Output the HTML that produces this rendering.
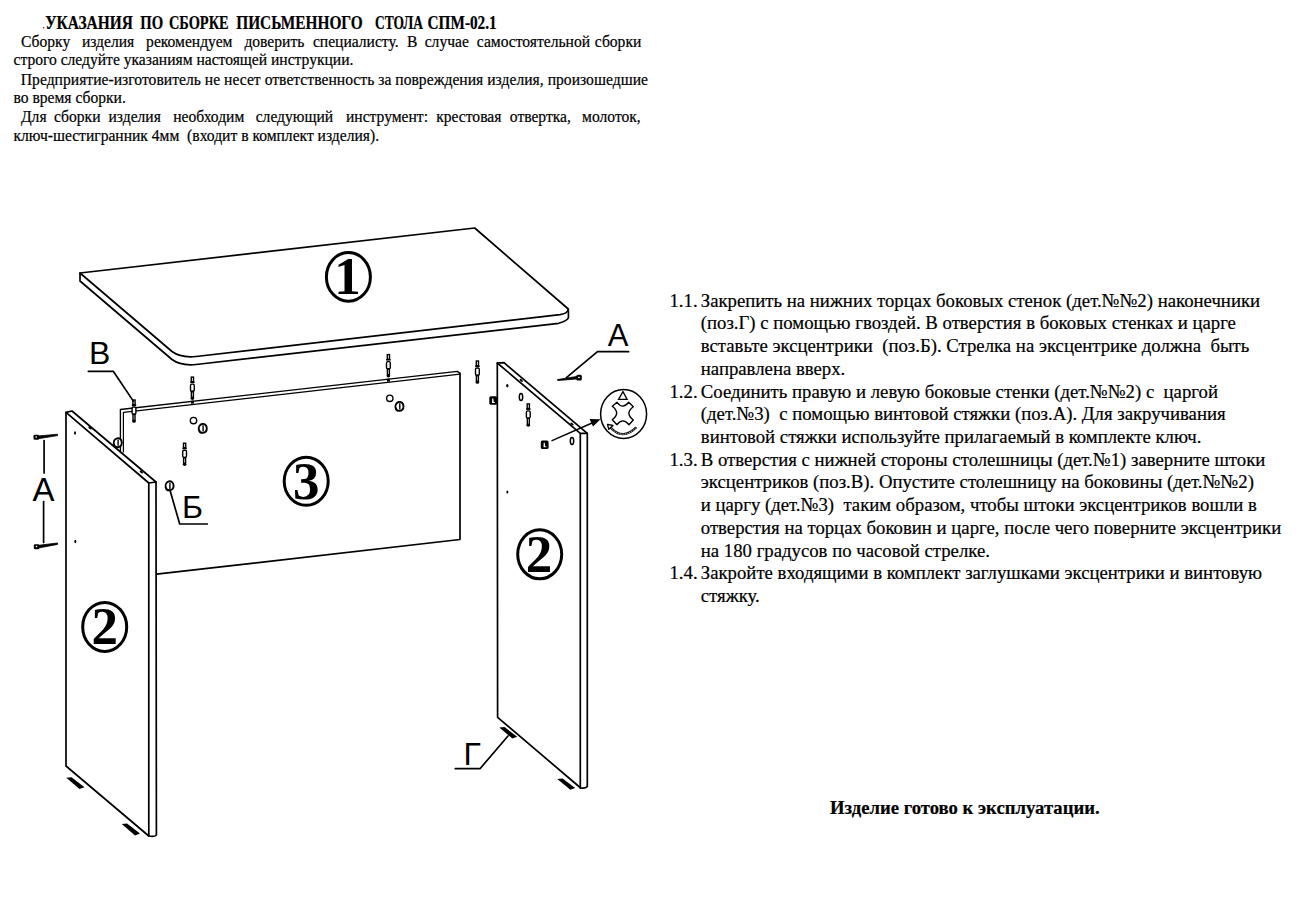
<!DOCTYPE html>
<html><head><meta charset="utf-8">
<style>
html,body{margin:0;padding:0;background:#fff;width:1300px;height:900px;overflow:hidden}
svg{display:block}
.t{font-family:"Liberation Serif",serif;fill:#000;stroke:#000;stroke-width:0.2px}
.h{font-size:15.6px}
.r{font-size:18.75px}
.lbl{font-family:"Liberation Sans",sans-serif;font-size:32px;fill:#000}
.num{font-family:"Liberation Serif",serif;font-weight:bold;font-size:53px;fill:#000}
.ln{fill:none;stroke:#000;stroke-width:1.7;stroke-linejoin:round;stroke-linecap:round}
.th{fill:none;stroke:#000;stroke-width:1.3}
</style></head>
<body>
<svg width="1300" height="900" viewBox="0 0 1300 900" xml:space="preserve">
<!-- HEADER TEXT -->
<g class="t h" transform="scale(1 1.1)">
<text x="45.2" y="26.18" font-weight="bold" font-size="16.2px" textLength="87.6" lengthAdjust="spacingAndGlyphs">УКАЗАНИЯ</text><text x="140.3" y="26.18" font-weight="bold" font-size="16.2px" textLength="22.9" lengthAdjust="spacingAndGlyphs">ПО</text><text x="168.9" y="26.18" font-weight="bold" font-size="16.2px" textLength="59.8" lengthAdjust="spacingAndGlyphs">СБОРКЕ</text><text x="236.2" y="26.18" font-weight="bold" font-size="16.2px" textLength="126.5" lengthAdjust="spacingAndGlyphs">ПИСЬМЕННОГО</text><text x="375.0" y="26.18" font-weight="bold" font-size="16.2px" textLength="47.9" lengthAdjust="spacingAndGlyphs">СТОЛА</text><text x="427.6" y="26.18" font-weight="bold" font-size="16.2px" textLength="69.1" lengthAdjust="spacingAndGlyphs">СПМ-02.1</text>
<text y="42.55"><tspan x="21.0">Сборку</tspan><tspan x="81.9">изделия</tspan><tspan x="146.1">рекомендуем</tspan><tspan x="244.4">доверить</tspan><tspan x="312.9">специалисту.</tspan><tspan x="407.0">В</tspan><tspan x="424.7">случае</tspan><tspan x="476.8">самостоятельной</tspan><tspan x="594.8">сборки</tspan></text>
<text x="13.5" y="59.27">строго следуйте указаниям настоящей инструкции.</text>
<text x="20.8" y="77.36" textLength="627.2" lengthAdjust="spacing">Предприятие-изготовитель не несет ответственность за повреждения изделия, произошедшие</text>
<text x="13.5" y="94.00">во время сборки.</text>
<text y="111.18"><tspan x="21.0">Для</tspan><tspan x="54.0">сборки</tspan><tspan x="108.5">изделия</tspan><tspan x="173.3">необходим</tspan><tspan x="255.7">следующий</tspan><tspan x="346.0">инструмент:</tspan><tspan x="436.2">крестовая</tspan><tspan x="509.8">отвертка,</tspan><tspan x="582.1">молоток,</tspan></text>
<text x="13.5" y="128.36" style="white-space:pre">ключ-шестигранник 4мм &#160;(входит в комплект изделия).</text>
</g>
<circle cx="43.6" cy="27.8" r="0.7" fill="#333"/>

<!-- RIGHT COLUMN TEXT -->
<g class="t r" style="white-space:pre" transform="translate(0 0.5) scale(1 1.05)">
<text x="669.5" y="291.71">1.1.</text>
<text x="700.8" y="291.71">Закрепить на нижних торцах боковых стенок (дет.№№2) наконечники</text>
<text x="700.8" y="313.33">(поз.Г) с помощью гвоздей. В отверстия в боковых стенках и царге</text>
<text x="700.8" y="334.95">вставьте эксцентрики &#160;(поз.Б). Стрелка на эксцентрике должна &#160;быть</text>
<text x="700.8" y="356.67">направлена вверх.</text>
<text x="669.5" y="378.29">1.2.</text>
<text x="700.8" y="378.29">Соединить правую и левую боковые стенки (дет.№№2) с &#160;царгой</text>
<text x="700.8" y="399.90">(дет.№3) &#160;с помощью винтовой стяжки (поз.А). Для закручивания</text>
<text x="700.8" y="421.52">винтовой стяжки используйте прилагаемый в комплекте ключ.</text>
<text x="669.5" y="443.14">1.3.</text>
<text x="700.8" y="443.14">В отверстия с нижней стороны столешницы (дет.№1) заверните штоки</text>
<text x="700.8" y="464.76">эксцентриков (поз.В). Опустите столешницу на боковины (дет.№№2)</text>
<text x="700.8" y="486.48">и царгу (дет.№3) &#160;таким образом, чтобы штоки эксцентриков вошли в</text>
<text x="700.8" y="508.10">отверстия на торцах боковин и царге, после чего поверните эксцентрики</text>
<text x="700.8" y="529.71">на 180 градусов по часовой стрелке.</text>
<text x="669.5" y="551.33">1.4.</text>
<text x="700.8" y="551.33">Закройте входящими в комплект заглушками эксцентрики и винтовую</text>
<text x="700.8" y="573.05">стяжку.</text>
</g>
<text class="t" x="830" y="814" font-weight="bold" font-size="18.7px">Изделие готово к эксплуатации.</text>

<!-- DIAGRAM -->
<g id="diagram">
<defs>
<g id="dw">
<rect x="-1.1" y="0.6" width="2.2" height="4.6" fill="#fff" stroke="#000" stroke-width="1.4"/>
<line x1="-2.2" y1="5.8" x2="2.2" y2="5.8" stroke="#000" stroke-width="1.6"/>
<rect x="-1.9" y="7.6" width="3.8" height="7.2" rx="1.3" fill="#fff" stroke="#000" stroke-width="1.4"/>
<rect x="-1" y="15" width="2" height="6" fill="#fff" stroke="#000" stroke-width="1.4"/>
<ellipse cx="0" cy="22" rx="1.8" ry="1.4" fill="#000"/>
</g>
<g id="ecc">
<path d="M-3.6,1.5 C-4.2,-1 -2.8,-3.6 -0.5,-4.3 C2,-5 4.2,-3 4.3,0 C4.4,3 2.5,4.6 0,4.6 C-2,4.6 -3.2,3.6 -3.6,1.5 Z" fill="#fff" stroke="#000" stroke-width="1.9"/>
<line x1="0.6" y1="-3" x2="0.6" y2="3.2" stroke="#000" stroke-width="1.4"/>
</g>
<g id="hole">
<circle cx="0" cy="0" r="3.2" fill="#fff" stroke="#000" stroke-width="1.4"/>
</g>
</defs>

<!-- Tabletop -->
<path class="ln" fill="#fff" d="M80,273 L474.7,228 L568.3,309 C568,312 565,314 560,314.7 L196,356.5 C186,357.5 178,356 172,351.5 Z"/>
<path class="ln" d="M80,273 L80,281 L172,359.5 C178,364 186,365.5 196,364.5 L558.7,323.3 C565,321.5 568.5,320 568.5,317 L568.3,309"/>
<g class="num"><text x="347.6" y="294" text-anchor="middle">1</text></g>
<ellipse cx="348.4" cy="276.9" rx="22" ry="24.3" fill="none" stroke="#000" stroke-width="3"/>

<!-- Rear panel (3) -->
<path class="ln" d="M460,373.4 L460,539.5 L156.6,574.2"/>
<path class="ln" style="stroke-width:1.35" d="M120.4,452 L120.4,409.5 L457.3,371.4 L460,373.4"/>
<path class="ln" style="stroke-width:1.2" d="M123.4,452 L123.4,412.4 L460,374.2"/>
<g class="num"><text x="306.2" y="498.5" text-anchor="middle">3</text></g>
<ellipse cx="306.2" cy="481.3" rx="22" ry="24" fill="none" stroke="#000" stroke-width="3"/>
<rect x="190.9" y="400.6" width="3" height="3" fill="#000" transform="rotate(-6.5 192.4 402)"/>
<use href="#dw" x="192.4" y="376.5"/>
<rect x="386.9" y="378.6" width="3" height="3" fill="#000" transform="rotate(-6.5 388.4 380)"/>
<use href="#dw" x="388.4" y="354"/>
<use href="#dw" x="184.6" y="442.6"/>
<use href="#dw" x="134" y="399.4"/>
<use href="#hole" x="193.5" y="420.6"/>
<use href="#ecc" x="202.5" y="428.3"/>
<use href="#hole" x="389.8" y="398.3"/>
<use href="#ecc" x="399.2" y="406.3"/>
<use href="#ecc" x="117.5" y="442.6"/>
<use href="#ecc" x="169.3" y="485.7"/>

<!-- Left side panel (2) -->
<path class="ln" fill="#fff" d="M66,412.3 L72,411 L156,482 L156.4,835 C155,836.5 151,836.5 148.8,836 L66,766 Z"/>
<path class="ln" d="M66,412.3 L148.8,483 L148.8,836 M148.8,483 L156,482"/>
<g class="num"><text x="104.7" y="644.3" text-anchor="middle">2</text></g>
<ellipse cx="104.7" cy="626.9" rx="22" ry="24.5" fill="none" stroke="#000" stroke-width="3"/>
<polygon points="66.3,777.8 71.5,777.3 84.5,787.3 79.5,789" fill="#000"/>
<polygon points="121.8,824 127,823.5 140,833.5 135,835.5" fill="#000"/>
<ellipse cx="90" cy="428" rx="2" ry="1" fill="#000" transform="rotate(40 90 428)"/>
<ellipse cx="141.3" cy="472" rx="2" ry="1" fill="#000" transform="rotate(40 141.3 472)"/>
<ellipse cx="75" cy="433" rx="1" ry="1.8" fill="#000"/>
<ellipse cx="75.3" cy="541.5" rx="1" ry="1.8" fill="#000"/>

<!-- Right side panel (2) -->
<path class="ln" fill="#fff" d="M497.3,363 L504,362.7 L587.3,433.3 L587.3,786.5 C586,788 583,788.3 580.7,788 L497.6,717.3 Z"/>
<path class="ln" d="M497.3,363 L580.3,433.3 L580.3,788 M580.3,433.3 L587.3,433.3"/>
<g class="num"><text x="539" y="571.5" text-anchor="middle">2</text></g>
<ellipse cx="539.7" cy="554.3" rx="22" ry="24.5" fill="none" stroke="#000" stroke-width="3"/>
<polygon points="499.3,727.5 504.5,727 517.2,736.8 512.3,738.5" fill="#000"/>
<polygon points="557.3,779 562.5,778.5 575.2,788 570.3,789.7" fill="#000"/>
<ellipse cx="521.3" cy="380.4" rx="2" ry="1" fill="#000" transform="rotate(40 521.3 380.4)"/>
<ellipse cx="572" cy="424" rx="2" ry="1" fill="#000" transform="rotate(40 572 424)"/>
<ellipse cx="507.3" cy="385.7" rx="1.2" ry="1.6" fill="#000"/>
<ellipse cx="507.3" cy="492" rx="1" ry="1.6" fill="#000"/>
<ellipse cx="521" cy="396.9" rx="1.7" ry="3.5" fill="none" stroke="#000" stroke-width="1.5"/>
<ellipse cx="572" cy="440.9" rx="1.7" ry="3.5" fill="none" stroke="#000" stroke-width="1.5"/>
<use href="#dw" x="528.3" y="403.3"/>
<use href="#dw" x="477.4" y="360.4"/>
<rect x="489.3" y="396.2" width="7.8" height="8.6" rx="1.6" fill="#000"/><path d="M492.2,398.5 L493.3,398.5 L493.8,402.3 L495,402.3 L495,403 L492,403 Z" fill="#fff"/>
<rect x="540.8" y="440.5" width="7.8" height="8.6" rx="1.6" fill="#000"/><path d="M543.7,442.8 L544.8,442.8 L545.3,446.6 L546.5,446.6 L546.5,447.3 L543.5,447.3 Z" fill="#fff"/>

<!-- Arrow to eccentric icon -->
<line class="ln" style="stroke-width:1.4" x1="552" y1="440.7" x2="592" y2="423"/>
<polygon points="600.5,419.3 589.5,419 593,426.5" fill="#000"/>
<!-- Eccentric icon -->
<ellipse cx="623.6" cy="414" rx="23" ry="24.5" fill="#fff" stroke="#000" stroke-width="1.5"/>
<polygon points="618.5,399.4 627.1,399.4 623,391.6" fill="none" stroke="#000" stroke-width="1.3"/>
<path fill="none" stroke="#000" stroke-width="1.4" stroke-linejoin="round" d="M617,402.3 Q622.7,410 628.7,402.3 L633.3,406.7 Q624.5,413.2 633.3,420 L629,424.7 Q622.7,417 617,424.7 L612.3,419.7 Q621,413.2 612.3,406.3 Z"/>
<path d="M610.5,427.5 Q623,441 636.3,427.3" fill="none" stroke="#000" stroke-width="2.3"/>
<path d="M610.5,427.5 Q623,441 636.3,427.3" fill="none" stroke="#fff" stroke-width="0.8" stroke-dasharray="1.5 0.8"/>
<polygon points="607.5,424.3 613,425.5 608.8,429.3" fill="#fff" stroke="#000" stroke-width="1.3" stroke-linejoin="round"/>

<!-- Screw A (right) -->
<path d="M557.3,379.6 L557.8,380.6 L577,378.9 L577,376.4 Z" fill="#000" stroke="#000" stroke-width="0.8"/><rect x="576.3" y="374.7" width="5.5" height="5.7" rx="1.5" fill="#000"/><rect x="578.2" y="376.8" width="1.6" height="1.4" fill="#fff"/>
<polyline class="ln" points="566.4,377.7 597.5,351.7 628.6,351.7"/>
<text class="lbl" x="607.7" y="345.8" style="font-size:32px" transform="translate(607.7 0) scale(0.97 1) translate(-607.7 0)">А</text>

<!-- Left A dimension -->
<path d="M38,436 L57.5,434.2 L57.6,435.6 L38,438.8 Z" fill="#000" stroke="#000" stroke-width="0.8"/><rect x="33.5" y="434.7" width="5.5" height="5.1" rx="1.3" fill="#000"/><rect x="35.5" y="436.3" width="1.4" height="1.4" fill="#fff"/>
<path d="M38.5,545.3 L57.5,543 L57.6,544.4 L38.5,548 Z" fill="#000" stroke="#000" stroke-width="0.8"/><rect x="33.8" y="544.2" width="5.5" height="5.1" rx="1.3" fill="#000"/><rect x="35.8" y="545.8" width="1.4" height="1.4" fill="#fff"/>
<line class="ln" x1="44.1" y1="440.5" x2="44.1" y2="472.9"/>
<line class="ln" x1="43.6" y1="501.5" x2="43.6" y2="542.5"/>
<text class="lbl" x="32.6" y="500.6" style="font-size:33px">А</text>

<!-- Label B -->
<text class="lbl" x="89" y="363.9">В</text>
<polyline class="ln" points="88.3,371.3 113.3,371.3 133.3,401.1"/>
<!-- Label Б -->
<text class="lbl" x="182" y="517.7">Б</text>
<polyline class="ln" points="170,490.3 179.7,524 207.3,524"/>
<!-- Label Г -->
<text class="lbl" x="463.6" y="764.7">Г</text>
<polyline class="ln" points="455.3,768.7 480,768.7 508,736"/>
</g>
</svg>
</body></html>
